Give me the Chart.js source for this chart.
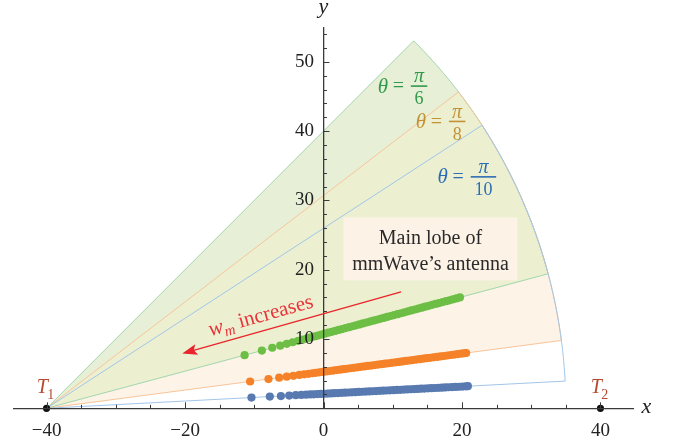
<!DOCTYPE html>
<html><head><meta charset="utf-8">
<script src="https://cdn.jsdelivr.net/npm/chart.js@4"></script>
<style>html,body{margin:0;padding:0;background:#fff;}#wrap{width:679px;height:443px;}</style>
</head><body><div id="wrap"><canvas id="c" width="679" height="443"></canvas></div>
<script>
// ---------- data ----------
const greenX = [-11.4,-8.9,-7.4,-6.25,-5.3,-4.45,-3.65,-2.95,-2.35,-1.8,-1.3,-0.8,-0.3,0.2,0.7,1.2,1.7,2.2,2.7,3.2,3.7,4.2,4.7,5.2,5.7,6.2,6.7,7.2,7.7,8.2,8.7,9.2,9.7,10.2,10.7,11.2,11.7,12.2,12.7,13.2,13.7,14.2,14.7,15.2,15.7,16.2,16.7,17.2,17.7,18.2,18.7,19.2,19.7];
const greenY = [7.66,8.33,8.74,9.04,9.30,9.53,9.74,9.93,10.09,10.24,10.37,10.50,10.64,10.77,10.91,11.04,11.17,11.31,11.44,11.58,11.71,11.84,11.98,12.11,12.25,12.38,12.51,12.65,12.78,12.92,13.05,13.18,13.32,13.45,13.59,13.72,13.85,13.99,14.12,14.26,14.39,14.52,14.66,14.79,14.93,15.06,15.19,15.33,15.46,15.59,15.73,15.86,16.00];
const orangeX = [-10.6,-7.95,-6.4,-5.3,-4.35,-3.5,-2.8,-2.15,-1.6,-1.1,-0.6,-0.1,0.4,0.9,1.4,1.9,2.4,2.9,3.4,3.9,4.4,4.9,5.4,5.9,6.4,6.9,7.4,7.9,8.4,8.9,9.4,9.9,10.4,10.9,11.4,11.9,12.4,12.9,13.4,13.9,14.4,14.9,15.4,15.9,16.4,16.9,17.4,17.9,18.4,18.9,19.4,19.9,20.4,20.6];
const orangeY = [3.87,4.22,4.42,4.57,4.69,4.81,4.90,4.98,5.06,5.12,5.19,5.25,5.32,5.38,5.45,5.52,5.58,5.65,5.71,5.78,5.84,5.91,5.98,6.04,6.11,6.17,6.24,6.31,6.37,6.44,6.50,6.57,6.63,6.70,6.77,6.83,6.90,6.96,7.03,7.09,7.16,7.23,7.29,7.36,7.42,7.49,7.55,7.62,7.69,7.75,7.82,7.88,7.95,7.98];
const blueX = [-10.4,-7.75,-6.15,-4.95,-4.0,-3.2,-2.5,-1.9,-1.4,-0.9,-0.4,0.1,0.6,1.1,1.6,2.1,2.6,3.1,3.6,4.1,4.6,5.1,5.6,6.1,6.6,7.1,7.6,8.1,8.6,9.1,9.6,10.1,10.6,11.1,11.6,12.1,12.6,13.1,13.6,14.1,14.6,15.1,15.6,16.1,16.6,17.1,17.6,18.1,18.6,19.1,19.6,20.1,20.6,20.85];
const blueY = [1.55,1.69,1.77,1.84,1.89,1.93,1.97,2.00,2.02,2.05,2.07,2.10,2.13,2.15,2.18,2.20,2.23,2.26,2.28,2.31,2.33,2.36,2.39,2.41,2.44,2.46,2.49,2.52,2.54,2.57,2.59,2.62,2.65,2.67,2.70,2.72,2.75,2.78,2.80,2.83,2.85,2.88,2.91,2.93,2.96,2.98,3.01,3.04,3.06,3.09,3.11,3.14,3.17,3.19];

const transmitterX = [-40, 40];
const transmitterY = [0, 0];
const transmitterSub = ['1', '2'];

const beamDirections = [Math.PI/6, Math.PI/8, Math.PI/10];   // θ of each sector
const beamDenominators = ['6', '8', '10'];
const beamHalfWidth = Math.PI/12;
const beamRadius = 75;

const xMajorTicks = [-40, -20, 0, 20, 40];
const yMajorTicks = [10, 20, 30, 40, 50];

const arrowTail = [11.2, 16.8];
const arrowTip = [-20.4, 7.9];
const lobeBoxCenter = [15.45, 23.0];
const lobeText = ['Main lobe of', 'mmWave\u2019s antenna'];
const beamLabelAnchors = [[13.8, 46.5], [19.3, 41.4], [23.1, 33.4]];

// ---------- styles ----------
const FONT = '"Liberation Serif", "Times New Roman", serif';
const greenOnly = '#e7f0d7', peachOnly = '#fdf3e7', overlapFill = '#ecf0d0';
const beamEdge = ['#a2d6ae', '#f7c59a', '#a2c6ea'];
const beamText = ['#2f9a4a', '#c39235', '#2d6db5'];
const dotColors = ['rgb(108,190,69)', 'rgb(245,130,40)', 'rgb(88,122,176)'];

function pts(xs, ys){ return xs.map((v,i)=>({x:v, y:ys[i]})); }

const sectorPlugin = {
  id: 'sectors',
  beforeDraw(chart){
    const {ctx, scales:{x, y}} = chart;
    const ox = transmitterX[0], oy = transmitterY[0];
    const path = (a1, a2) => {
      ctx.beginPath();
      ctx.moveTo(x.getPixelForValue(ox), y.getPixelForValue(oy));
      const n = 80;
      for (let i=0;i<=n;i++){
        const t = a1 + (a2-a1)*i/n;
        ctx.lineTo(x.getPixelForValue(ox+beamRadius*Math.cos(t)), y.getPixelForValue(oy+beamRadius*Math.sin(t)));
      }
      ctx.closePath();
    };
    const lo = k => beamDirections[k]-beamHalfWidth, hi = k => beamDirections[k]+beamHalfWidth;
    ctx.save();
    ctx.fillStyle = '#fff'; ctx.fillRect(0, 0, chart.width, chart.height);
    path(lo(1), hi(1)); ctx.fillStyle = peachOnly; ctx.fill();
    path(lo(0), hi(0)); ctx.fillStyle = greenOnly; ctx.fill();
    path(Math.max(lo(0), lo(1)), Math.min(hi(0), hi(1))); ctx.fillStyle = overlapFill; ctx.fill();
    ctx.lineWidth = 1;
    for (let k=0;k<3;k++){ path(lo(k), hi(k)); ctx.strokeStyle = beamEdge[k]; ctx.stroke(); }
    ctx.restore();
  }
};

const decorPlugin = {
  id: 'decor',
  afterDraw(chart){
    const {ctx, scales:{x, y}, chartArea} = chart;
    ctx.save();
    // inward tick marks
    ctx.strokeStyle = '#3a3a3a'; ctx.lineWidth = 1;
    const axY = y.getPixelForValue(0), axX = x.getPixelForValue(0);
    x.ticks.forEach(t => {
      const px = Math.round(x.getPixelForValue(t.value))+0.5;
      const len = xMajorTicks.includes(t.value) ? 6 : 3.5;
      ctx.beginPath(); ctx.moveTo(px, axY); ctx.lineTo(px, axY-len); ctx.stroke();
    });
    y.ticks.forEach(t => {
      if (t.value === 0) return;
      const py = Math.round(y.getPixelForValue(t.value))+0.5;
      const len = yMajorTicks.includes(t.value) ? 6 : 3.5;
      ctx.beginPath(); ctx.moveTo(axX, py); ctx.lineTo(axX+len, py); ctx.stroke();
    });

    // beam labels
    for (let k=0;k<3;k++){
      const cx = x.getPixelForValue(beamLabelAnchors[k][0]);
      const cy = y.getPixelForValue(beamLabelAnchors[k][1]);
      ctx.fillStyle = beamText[k]; ctx.strokeStyle = beamText[k];
      ctx.font = '18px ' + FONT;
      const dw = ctx.measureText(beamDenominators[k]).width;
      const bw = dw + 7.5, left = cx - bw/2;
      ctx.lineWidth = 1.6;
      ctx.beginPath(); ctx.moveTo(left, cy); ctx.lineTo(left+bw, cy); ctx.stroke();
      ctx.textAlign = 'center'; ctx.textBaseline = 'alphabetic';
      ctx.fillText(beamDenominators[k], cx, cy + 18.3);
      ctx.font = 'italic 20px ' + FONT;
      ctx.fillText('\u03C0', cx, cy - 3.7);
      ctx.textBaseline = 'middle';
      ctx.font = '20px ' + FONT;
      ctx.fillText('=', left - 12.5, cy + 1);
      ctx.font = 'italic 21px ' + FONT;
      ctx.fillText('\u03B8', left - 28, cy + 1);
    }

    // main lobe box
    const bx = x.getPixelForValue(lobeBoxCenter[0]), by = y.getPixelForValue(lobeBoxCenter[1]);
    ctx.fillStyle = '#fcf2e6';
    ctx.fillRect(bx - 87, by - 31.5, 174, 63);
    ctx.fillStyle = '#2a2a2a'; ctx.font = '20px ' + FONT;
    ctx.textAlign = 'center'; ctx.textBaseline = 'alphabetic';
    ctx.fillText(lobeText[0], bx, by - 4.7);
    ctx.fillText(lobeText[1], bx, by + 21.3);

    // arrow
    const tx = x.getPixelForValue(arrowTip[0]), ty = y.getPixelForValue(arrowTip[1]);
    const sx = x.getPixelForValue(arrowTail[0]), sy = y.getPixelForValue(arrowTail[1]);
    const ang = Math.atan2(sy - ty, sx - tx), L = Math.hypot(sx - tx, sy - ty);
    ctx.translate(tx, ty); ctx.rotate(ang);
    ctx.strokeStyle = '#e8262b'; ctx.fillStyle = '#e8262b'; ctx.lineWidth = 1.5;
    ctx.beginPath(); ctx.moveTo(10, 0); ctx.lineTo(L, 0); ctx.stroke();
    ctx.beginPath(); ctx.moveTo(0, 0); ctx.lineTo(15, -5.5); ctx.lineTo(12, 0); ctx.lineTo(15, 5.5); ctx.closePath(); ctx.fill();
    ctx.fillStyle = '#e8333a'; ctx.textAlign = 'left'; ctx.textBaseline = 'alphabetic';
    let cur = 32;
    ctx.font = 'italic 22px ' + FONT; ctx.fillText('w', cur, -9); cur += ctx.measureText('w').width;
    ctx.font = 'italic 15px ' + FONT; ctx.fillText('m', cur, -4.5); cur += ctx.measureText('m').width;
    ctx.font = '21px ' + FONT; ctx.fillText(' increases', cur, -9);
    ctx.setTransform(1,0,0,1,0,0);

    // transmitter labels
    ctx.fillStyle = '#b5482f';
    for (let i=0;i<2;i++){
      const px = x.getPixelForValue(transmitterX[i]) - 9.8, py = y.getPixelForValue(transmitterY[i]) - 15;
      ctx.textAlign = 'left'; ctx.textBaseline = 'alphabetic';
      ctx.font = 'italic 20px ' + FONT; ctx.fillText('T', px, py);
      const w = ctx.measureText('T').width;
      ctx.font = '14px ' + FONT; ctx.fillText(transmitterSub[i], px + w - 0.5, py + 5.5);
    }

    // axis titles
    ctx.fillStyle = '#222'; ctx.font = 'italic 22px ' + FONT;
    ctx.textAlign = 'left'; ctx.textBaseline = 'alphabetic';
    ctx.fillText('x', chartArea.right + 8.5, axY + 5);
    ctx.textAlign = 'center';
    ctx.fillText('y', axX, chartArea.top - 14.5);
    ctx.restore();
  }
};

Chart.defaults.font.family = FONT;
new Chart(document.getElementById('c'), {
  type: 'scatter',
  data: {
    datasets: [
      { data: pts(greenX, greenY), backgroundColor: dotColors[0], pointRadius: 4.1, borderWidth: 0 },
      { data: pts(orangeX, orangeY), backgroundColor: dotColors[1], pointRadius: 4.1, borderWidth: 0 },
      { data: pts(blueX, blueY), backgroundColor: dotColors[2], pointRadius: 4.1, borderWidth: 0 },
      { data: pts(transmitterX, transmitterY), backgroundColor: '#111', pointRadius: 3.6, borderWidth: 0, clip: false }
    ]
  },
  options: {
    responsive: false, animation: false, devicePixelRatio: 1,
    layout: { padding: { left: 14, right: 46, top: 27.2, bottom: 0 } },
    plugins: { legend: { display: false }, tooltip: { enabled: false } },
    scales: {
      x: {
        type: 'linear', position: 'bottom', min: -44.7, max: 44.7,
        afterFit(s){ s.height = 34.7; },
        ticks: { stepSize: 5, includeBounds: false, padding: 11, color: '#222', maxRotation: 0, autoSkip: false, z: 1,
                 font: { size: 19, family: FONT },
                 callback: v => xMajorTicks.includes(v) ? String(v).replace('-', '\u2212') : '' },
        grid: { display: true, drawOnChartArea: false, drawTicks: false },
        border: { display: true, color: '#3a3a3a', width: 1.3, z: 1 }
      },
      y: {
        type: 'linear', position: { x: 0 }, min: 0, max: 55,
        afterFit(s){ s.width = 0; },
        ticks: { stepSize: 2, includeBounds: false, padding: 0, color: '#222', autoSkip: false, z: 1,
                 font: { size: 19, family: FONT },
                 callback: v => yMajorTicks.includes(v) ? String(v) + '  ' : '' },
        grid: { display: true, drawOnChartArea: false, drawTicks: true, tickLength: 8, tickColor: 'rgba(0,0,0,0)' },
        border: { display: true, color: '#3a3a3a', width: 1.3, z: 1 }
      }
    }
  },
  plugins: [sectorPlugin, decorPlugin]
});
</script>
</body></html>
